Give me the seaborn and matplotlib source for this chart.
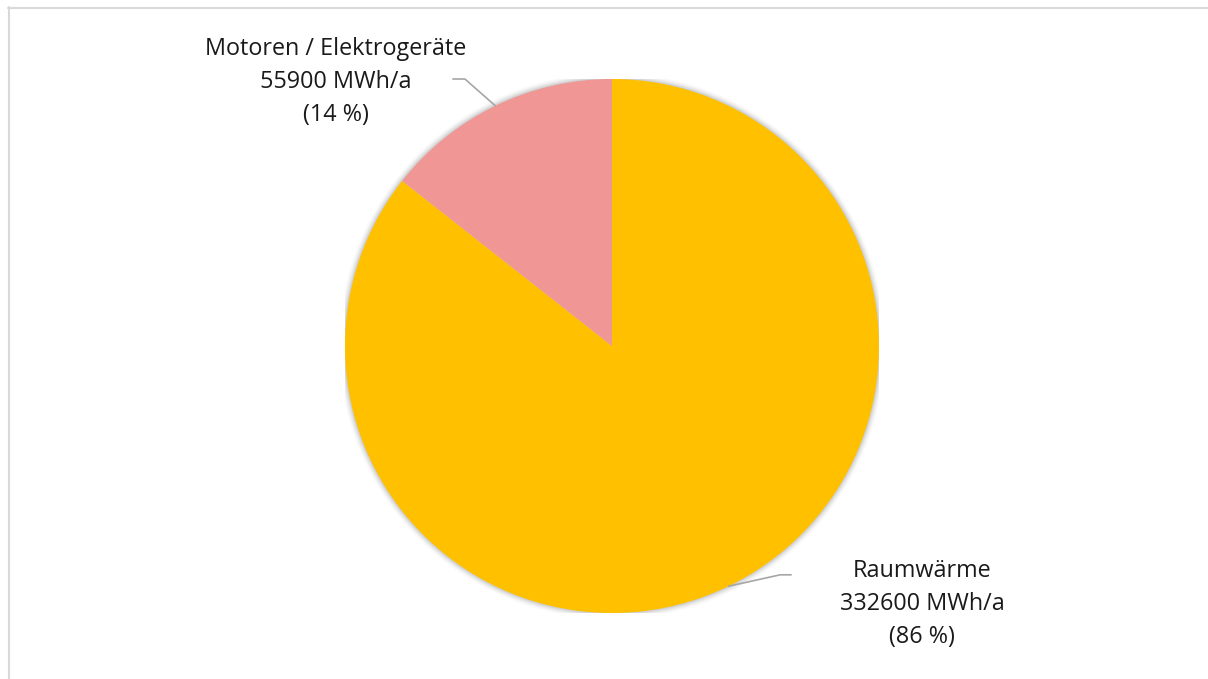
import numpy as np
import matplotlib
matplotlib.use("Agg")
import matplotlib.pyplot as plt
import seaborn as sns
from matplotlib.patches import Circle
from matplotlib.lines import Line2D

# Data
categories = ["Raumwärme", "Motoren / Elektrogeräte"]
values = [332600, 55900]
percent_labels = ["86 %", "14 %"]
unit = "MWh/a"
colors = ["#FFC000", "#F09694"]

sns.set_theme(style="white")
plt.rcParams['font.family'] = ['Open Sans', 'DejaVu Sans']

W, H = 1208, 679
fig = plt.figure(figsize=(W / 100, H / 100), dpi=100)
fig.patch.set_facecolor("white")

# Frame (top and left visible)
fig.add_artist(Line2D([8 / W, 1.0], [1 - 7.5 / H, 1 - 7.5 / H], color="#D9D9D9", lw=1.5))
fig.add_artist(Line2D([8.5 / W, 8.5 / W], [0, 1 - 7 / H], color="#D9D9D9", lw=1.5))

cx, cy, r = 612, 346, 267
ax = fig.add_axes([(cx - r) / W, (H - cy - r) / H, 2 * r / W, 2 * r / H])
ax.set_xlim(-1, 1)
ax.set_ylim(-1, 1)
ax.set_aspect("equal")
ax.axis("off")

# soft shadow
for i, a in enumerate(np.linspace(0.05, 0.01, 6)):
    ax.add_patch(Circle((0, 0), 1.0 + 0.004 * (i + 1), color="black", alpha=a, lw=0, zorder=0))

wedges, _ = ax.pie(values, colors=colors, startangle=90, counterclock=False, radius=1,
                   wedgeprops=dict(linewidth=0), center=(0, 0), frame=False)
ax.set_xlim(-1, 1)
ax.set_ylim(-1, 1)

text_pos = [(1.161, -0.965), (-1.034, 0.99)]
elbows = [(0.63, -0.857), (-0.551, 1.0)]
ends = [(0.671, -0.857), (-0.596, 1.0)]

for w, cat, v, p, tp, el, en in zip(wedges, categories, values, percent_labels, text_pos, elbows, ends):
    ang = np.deg2rad((w.theta1 + w.theta2) / 2)
    x0, y0 = np.cos(ang), np.sin(ang)
    ax.plot([x0, el[0], en[0]], [y0, el[1], en[1]], color="#A6A6A6", lw=1.2, clip_on=False)
    ax.text(tp[0], tp[1], f"{cat}\n{v} {unit}\n({p})", ha="center", va="center",
            fontsize=16.8, color="#1A1A1A", linespacing=1.5, clip_on=False)

fig.savefig("out.png", dpi=100, facecolor="white")
